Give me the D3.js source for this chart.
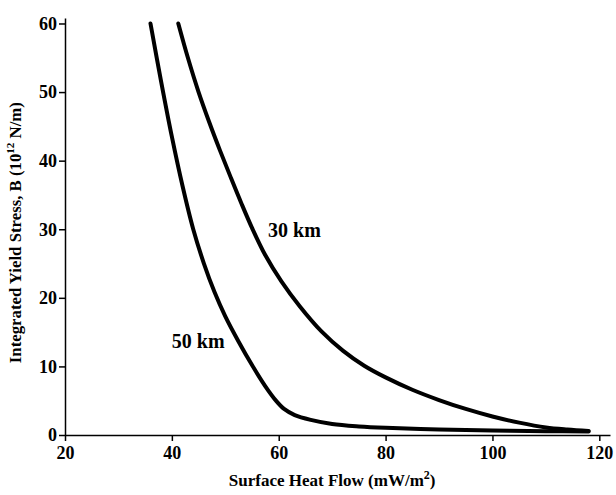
<!DOCTYPE html>
<html>
<head>
<meta charset="utf-8">
<script src="https://cdn.jsdelivr.net/npm/d3@7"></script>
<style>
  body { margin: 0; background: #fff; }
  svg { display: block; font-family: "Liberation Serif", "Times New Roman", serif; font-weight: bold; }
  .axis text { font-family: "Liberation Serif", serif; font-weight: bold; font-size: 18px; fill: #000; }
  .axis path, .axis line { stroke: #000; stroke-width: 1.5; }
</style>
</head>
<body>
<div id="chart"></div>
<script>
let width = 616,
    height = 495,
    margin = ({ top: 18, right: 6, bottom: 60, left: 65 });

// curve for 30 km crust (heat flow, integrated stress)
const heatFlow30 = [41.2, 43, 45, 47, 49, 51, 53, 55, 57.5, 60.5, 64, 68, 72, 76, 80, 85, 90, 95, 100, 105, 110, 114, 118];
const stress30   = [60, 55, 50, 45.6, 41.5, 37.6, 33.8, 30.2, 26.2, 22.4, 18.7, 15.1, 12.3, 10.1, 8.4, 6.6, 5.1, 3.8, 2.7, 1.8, 1.1, 0.8, 0.6];

// curve for 50 km crust
const heatFlow50 = [36, 38, 40, 42, 44, 46, 48, 50, 52.5, 55, 57.5, 59.6, 61, 63, 66, 70, 75, 80, 90, 100, 110, 118];
const stress50   = [60, 51.5, 43.5, 36.3, 30, 25, 20.8, 17.3, 13.6, 10.2, 7.1, 4.9, 3.8, 2.9, 2.2, 1.6, 1.25, 1.05, 0.82, 0.67, 0.56, 0.5];

const xTicks = [20, 40, 60, 80, 100, 120];
const yTicks = [0, 10, 20, 30, 40, 50, 60];

const curveLabels = [
  { text: "30 km", x: 58, y: 28.8 },
  { text: "50 km", x: 40, y: 12.7 }
];

const svg = d3.select("#chart")
  .append("svg")
  .attr("width", width)
  .attr("height", height);

let x = d3.scaleLinear()
  .domain([20, 122])
  .range([margin.left, width - margin.right]);

let y = d3.scaleLinear()
  .domain([0, 60.8])
  .range([height - margin.bottom, margin.top]);

// y axis, ticks point outwards
svg.append("g")
  .attr("class", "axis")
  .attr("transform", `translate(${margin.left},0)`)
  .call(d3.axisLeft(y)
    .tickValues(yTicks)
    .tickSizeInner(6)
    .tickSizeOuter(0)
    .tickPadding(2)
  );

// x axis
svg.append("g")
  .attr("class", "axis")
  .attr("transform", `translate(0,${height - margin.bottom})`)
  .call(d3.axisBottom(x)
    .tickValues(xTicks)
    .tickSizeInner(6)
    .tickSizeOuter(0)
    .tickPadding(5)
  );

let line = d3.line()
  .x(d => x(d[0]))
  .y(d => y(d[1]))
  .curve(d3.curveCatmullRom.alpha(0.5));

[[heatFlow30, stress30], [heatFlow50, stress50]].forEach(([xs, ys]) => {
  svg.append("path")
    .datum(xs.map((v, i) => [v, ys[i]]))
    .attr("fill", "none")
    .attr("stroke", "#000")
    .attr("stroke-width", 4)
    .attr("stroke-linecap", "round")
    .attr("stroke-linejoin", "round")
    .attr("d", line);
});

svg.selectAll(".curve-label")
  .data(curveLabels)
  .join("text")
    .attr("class", "curve-label")
    .attr("x", d => x(d.x))
    .attr("y", d => y(d.y))
    .attr("font-size", 20)
    .text(d => d.text);

// x label
let xl = svg.append("text")
  .attr("text-anchor", "middle")
  .attr("x", x(70))
  .attr("y", height - 9)
  .attr("font-size", 17);
xl.append("tspan").text("Surface Heat Flow (mW/m");
xl.append("tspan").attr("dy", -7).attr("font-size", 12).text("2");
xl.append("tspan").attr("dy", 7).text(")");

// y label
let yl = svg.append("text")
  .attr("text-anchor", "middle")
  .attr("transform", `translate(21,${y(29.5)}) rotate(-90)`)
  .attr("font-size", 16.8);
yl.append("tspan").text("Integrated Yield Stress, B (10");
yl.append("tspan").attr("dy", -7).attr("font-size", 11).text("12");
yl.append("tspan").attr("dy", 7).text(" N/m)");
</script>
</body>
</html>
